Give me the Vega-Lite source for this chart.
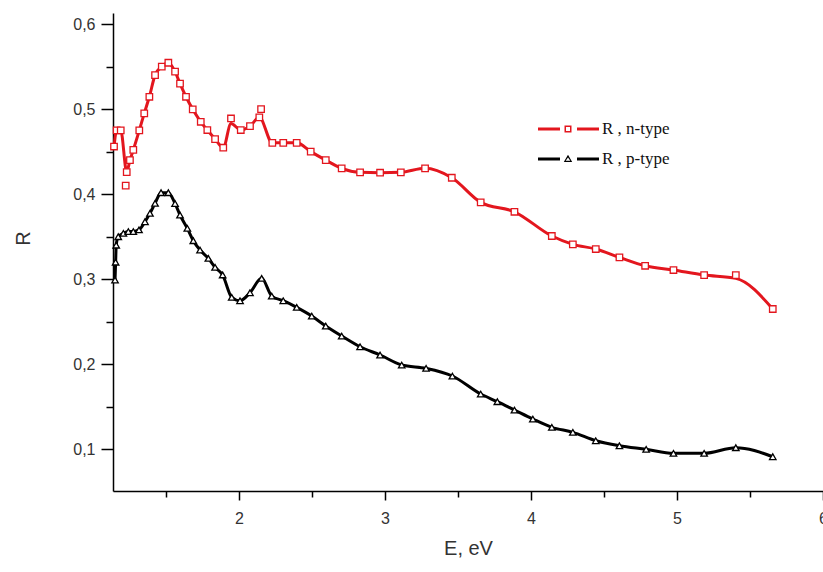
{
  "$schema": "https://vega.github.io/schema/vega-lite/v6.json",
  "width": 710,
  "height": 478,
  "autosize": {"type": "none"},
  "padding": {"left": 113, "top": 13, "right": 0, "bottom": 81},
  "background": "white",
  "config": {
    "view": {"stroke": null},
    "axis": {
      "grid": false,
      "domainColor": "#000000",
      "domainWidth": 1.5,
      "tickColor": "#000000",
      "tickWidth": 1.5,
      "labelColor": "#333333",
      "labelFont": "Liberation Sans",
      "labelFontSize": 16,
      "titleFont": "Liberation Sans",
      "titleFontWeight": "normal",
      "titleColor": "#333333",
      "titleFontSize": 20
    }
  },
  "data": {
    "values": [
      {"s": "R , n-type", "E": 1.145, "R": 0.456, "L": 0.456},
      {"s": "R , n-type", "E": 1.163, "R": 0.475, "L": 0.475},
      {"s": "R , n-type", "E": 1.191, "R": 0.475, "L": 0.475},
      {"s": "R , n-type", "E": 1.225, "R": 0.41, "L": null},
      {"s": "R , n-type", "E": 1.232, "R": 0.426, "L": 0.426},
      {"s": "R , n-type", "E": 1.254, "R": 0.44, "L": 0.44},
      {"s": "R , n-type", "E": 1.277, "R": 0.452, "L": 0.452},
      {"s": "R , n-type", "E": 1.318, "R": 0.475, "L": 0.475},
      {"s": "R , n-type", "E": 1.352, "R": 0.495, "L": 0.495},
      {"s": "R , n-type", "E": 1.387, "R": 0.5145, "L": 0.5145},
      {"s": "R , n-type", "E": 1.426, "R": 0.54, "L": 0.54},
      {"s": "R , n-type", "E": 1.472, "R": 0.55, "L": 0.55},
      {"s": "R , n-type", "E": 1.517, "R": 0.5545, "L": 0.5545},
      {"s": "R , n-type", "E": 1.563, "R": 0.544, "L": 0.544},
      {"s": "R , n-type", "E": 1.597, "R": 0.53, "L": 0.53},
      {"s": "R , n-type", "E": 1.638, "R": 0.5145, "L": 0.5145},
      {"s": "R , n-type", "E": 1.684, "R": 0.4997, "L": 0.4997},
      {"s": "R , n-type", "E": 1.739, "R": 0.4851, "L": 0.4851},
      {"s": "R , n-type", "E": 1.784, "R": 0.4754, "L": 0.4754},
      {"s": "R , n-type", "E": 1.837, "R": 0.4648, "L": 0.4648},
      {"s": "R , n-type", "E": 1.893, "R": 0.4546, "L": 0.4546},
      {"s": "R , n-type", "E": 1.946, "R": 0.489, "L": 0.483},
      {"s": "R , n-type", "E": 2.013, "R": 0.4754, "L": 0.4754},
      {"s": "R , n-type", "E": 2.076, "R": 0.48, "L": 0.48},
      {"s": "R , n-type", "E": 2.14, "R": 0.4903, "L": 0.4903},
      {"s": "R , n-type", "E": 2.152, "R": 0.5, "L": null},
      {"s": "R , n-type", "E": 2.229, "R": 0.4604, "L": 0.4604},
      {"s": "R , n-type", "E": 2.304, "R": 0.4604, "L": 0.4604},
      {"s": "R , n-type", "E": 2.396, "R": 0.4604, "L": 0.4604},
      {"s": "R , n-type", "E": 2.492, "R": 0.45, "L": 0.45},
      {"s": "R , n-type", "E": 2.595, "R": 0.44, "L": 0.44},
      {"s": "R , n-type", "E": 2.704, "R": 0.4304, "L": 0.4304},
      {"s": "R , n-type", "E": 2.83, "R": 0.4257, "L": 0.4257},
      {"s": "R , n-type", "E": 2.967, "R": 0.4252, "L": 0.4252},
      {"s": "R , n-type", "E": 3.109, "R": 0.4257, "L": 0.4257},
      {"s": "R , n-type", "E": 3.275, "R": 0.4304, "L": 0.4304},
      {"s": "R , n-type", "E": 3.458, "R": 0.4193, "L": 0.4193},
      {"s": "R , n-type", "E": 3.656, "R": 0.3904, "L": 0.3904},
      {"s": "R , n-type", "E": 3.887, "R": 0.3793, "L": 0.3793},
      {"s": "R , n-type", "E": 4.143, "R": 0.3508, "L": 0.3508},
      {"s": "R , n-type", "E": 4.287, "R": 0.341, "L": 0.341},
      {"s": "R , n-type", "E": 4.444, "R": 0.3355, "L": 0.3355},
      {"s": "R , n-type", "E": 4.606, "R": 0.3257, "L": 0.3257},
      {"s": "R , n-type", "E": 4.782, "R": 0.3158, "L": 0.3158},
      {"s": "R , n-type", "E": 4.976, "R": 0.3108, "L": 0.3108},
      {"s": "R , n-type", "E": 5.186, "R": 0.3049, "L": 0.3049},
      {"s": "R , n-type", "E": 5.403, "R": 0.3049, "L": 0.301},
      {"s": "R , n-type", "E": 5.656, "R": 0.265, "L": 0.265},
      {"s": "R , p-type", "E": 1.152, "R": 0.299, "L": 0.299},
      {"s": "R , p-type", "E": 1.156, "R": 0.32, "L": 0.32},
      {"s": "R , p-type", "E": 1.16, "R": 0.34, "L": 0.34},
      {"s": "R , p-type", "E": 1.174, "R": 0.35, "L": 0.35},
      {"s": "R , p-type", "E": 1.209, "R": 0.354, "L": 0.354},
      {"s": "R , p-type", "E": 1.243, "R": 0.356, "L": 0.356},
      {"s": "R , p-type", "E": 1.277, "R": 0.356, "L": 0.356},
      {"s": "R , p-type", "E": 1.316, "R": 0.358, "L": 0.358},
      {"s": "R , p-type", "E": 1.357, "R": 0.3676, "L": 0.3676},
      {"s": "R , p-type", "E": 1.391, "R": 0.3775, "L": 0.3775},
      {"s": "R , p-type", "E": 1.426, "R": 0.3892, "L": 0.3892},
      {"s": "R , p-type", "E": 1.467, "R": 0.4017, "L": 0.4017},
      {"s": "R , p-type", "E": 1.517, "R": 0.4017, "L": 0.4017},
      {"s": "R , p-type", "E": 1.563, "R": 0.389, "L": 0.389},
      {"s": "R , p-type", "E": 1.597, "R": 0.3755, "L": 0.3755},
      {"s": "R , p-type", "E": 1.647, "R": 0.3598, "L": 0.3598},
      {"s": "R , p-type", "E": 1.688, "R": 0.3453, "L": 0.3453},
      {"s": "R , p-type", "E": 1.734, "R": 0.3343, "L": 0.3343},
      {"s": "R , p-type", "E": 1.791, "R": 0.3245, "L": 0.3245},
      {"s": "R , p-type", "E": 1.837, "R": 0.314, "L": 0.314},
      {"s": "R , p-type", "E": 1.889, "R": 0.305, "L": 0.305},
      {"s": "R , p-type", "E": 1.951, "R": 0.2787, "L": 0.2787},
      {"s": "R , p-type", "E": 2.008, "R": 0.2747, "L": 0.2747},
      {"s": "R , p-type", "E": 2.076, "R": 0.2841, "L": 0.2841},
      {"s": "R , p-type", "E": 2.156, "R": 0.301, "L": 0.301},
      {"s": "R , p-type", "E": 2.225, "R": 0.2802, "L": 0.2802},
      {"s": "R , p-type", "E": 2.304, "R": 0.2747, "L": 0.2747},
      {"s": "R , p-type", "E": 2.396, "R": 0.2669, "L": 0.2669},
      {"s": "R , p-type", "E": 2.499, "R": 0.2567, "L": 0.2567},
      {"s": "R , p-type", "E": 2.595, "R": 0.245, "L": 0.245},
      {"s": "R , p-type", "E": 2.704, "R": 0.2332, "L": 0.2332},
      {"s": "R , p-type", "E": 2.83, "R": 0.2206, "L": 0.2206},
      {"s": "R , p-type", "E": 2.967, "R": 0.2109, "L": 0.2109},
      {"s": "R , p-type", "E": 3.115, "R": 0.1991, "L": 0.1991},
      {"s": "R , p-type", "E": 3.282, "R": 0.1952, "L": 0.1952},
      {"s": "R , p-type", "E": 3.462, "R": 0.1862, "L": 0.1862},
      {"s": "R , p-type", "E": 3.656, "R": 0.165, "L": 0.165},
      {"s": "R , p-type", "E": 3.77, "R": 0.156, "L": 0.156},
      {"s": "R , p-type", "E": 3.887, "R": 0.1462, "L": 0.1462},
      {"s": "R , p-type", "E": 4.013, "R": 0.1356, "L": 0.1356},
      {"s": "R , p-type", "E": 4.143, "R": 0.1259, "L": 0.1259},
      {"s": "R , p-type", "E": 4.287, "R": 0.12, "L": 0.12},
      {"s": "R , p-type", "E": 4.444, "R": 0.1101, "L": 0.1101},
      {"s": "R , p-type", "E": 4.606, "R": 0.1042, "L": 0.1042},
      {"s": "R , p-type", "E": 4.789, "R": 0.1, "L": 0.1},
      {"s": "R , p-type", "E": 4.976, "R": 0.0953, "L": 0.0953},
      {"s": "R , p-type", "E": 5.186, "R": 0.0953, "L": 0.0953},
      {"s": "R , p-type", "E": 5.403, "R": 0.1019, "L": 0.1019},
      {"s": "R , p-type", "E": 5.656, "R": 0.0913, "L": 0.0913}
    ]
  },
  "encoding": {
    "x": {
      "field": "E",
      "type": "quantitative",
      "scale": {"domain": [1.138, 6], "nice": false, "zero": false},
      "axis": {
        "title": "E, eV",
        "values": [1.5, 2, 2.5, 3, 3.5, 4, 4.5, 5, 5.5, 6],
        "labelExpr": "datum.value % 1 == 0 ? format(datum.value, 'd') : ''",
        "tickSize": {"condition": {"test": "datum.value % 1 == 0", "value": 9}, "value": 6},
        "labelPadding": 10,
        "labelFlush": false,
        "labelOverlap": false,
        "titleY": 57,
        "titleBaseline": "middle"
      }
    },
    "y": {
      "type": "quantitative",
      "scale": {"domain": [0.051, 0.613], "nice": false, "zero": false},
      "axis": {
        "title": "R",
        "values": [0.1, 0.15, 0.2, 0.25, 0.3, 0.35, 0.4, 0.45, 0.5, 0.55, 0.6],
        "labelExpr": "round(datum.value*20) % 2 == 0 ? replace(format(datum.value, '.1f'), '.', ',') : ''",
        "tickSize": {"condition": {"test": "round(datum.value*20) % 2 == 0", "value": 12}, "value": 7},
        "labelPadding": 6,
        "titleX": -90,
        "titleY": 225,
        "titleAlign": "center",
        "titleBaseline": "middle"
      }
    },
    "color": {
      "field": "s",
      "type": "nominal",
      "scale": {"domain": ["R , n-type", "R , p-type"], "range": ["#e3161e", "#000000"]},
      "legend": {
        "title": null,
        "orient": "none",
        "legendX": 466,
        "legendY": 106,
        "padding": 0,
        "symbolSize": 400,
        "symbolStrokeWidth": 0,
        "labelOffset": 3,
        "rowPadding": 12,
        "labelFont": "Liberation Serif",
        "labelFontSize": 17,
        "labelColor": "#111111",
        "labelLimit": 300,
        "encode": {
          "symbols": {
            "update": {
              "shape": [
                {"test": "datum.value === 'R , n-type'", "value": "M-5.1,-0.15H-2.9V0.15H-5.1Z M-1.2,-0.15H1V0.15H-1.2Z M-2.45,-0.35H-1.75V0.35H-2.45Z M-2.3,-0.2V0.2H-1.9V-0.2Z"},
                {"value": "M-5.1,-0.15H-2.9V0.15H-5.1Z M-1.2,-0.15H1V0.15H-1.2Z M-2.1,-0.42L-1.68,0.3L-2.52,0.3Z M-2.1,-0.14L-2.33,0.17L-1.87,0.17Z"}
              ],
              "fill": [
                {"test": "datum.value === 'R , n-type'", "value": "#e3161e"},
                {"value": "#000000"}
              ],
              "stroke": {"value": "transparent"},
              "opacity": {"value": 1}
            }
          }
        }
      }
    }
  },
  "layer": [
    {
      "transform": [{"filter": "datum.L != null"}],
      "mark": {"type": "line", "interpolate": "monotone", "strokeWidth": 3},
      "encoding": {"y": {"field": "L"}}
    },
    {
      "transform": [{"filter": "datum.s === 'R , n-type'"}],
      "mark": {"type": "point", "shape": "square", "filled": false, "fill": "white", "strokeWidth": 1.3, "size": 42, "opacity": 1},
      "encoding": {"y": {"field": "R"}}
    },
    {
      "transform": [{"filter": "datum.s === 'R , p-type'"}],
      "mark": {"type": "point", "shape": "triangle-up", "filled": false, "fill": "white", "strokeWidth": 1.3, "size": 42, "opacity": 1},
      "encoding": {"y": {"field": "R"}}
    }
  ]
}
